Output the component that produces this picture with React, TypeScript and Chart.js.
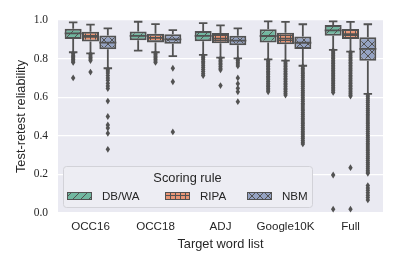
import React, { useEffect, useRef } from 'react';
import { Chart, registerables } from 'chart.js';

Chart.register(...registerables);

const categories = ['OCC16', 'OCC18', 'ADJ', 'Google10K', 'Full'];
const rules = ['DB/WA', 'RIPA', 'NBM'];
const yTickValues = [0, 0.2, 0.4, 0.6, 0.8, 1.0];

// DB/WA
const dbwaLow = [0.833, 0.841, 0.819, 0.796, 0.845];
const dbwaQ1 = [0.902, 0.895, 0.89, 0.884, 0.919];
const dbwaMed = [0.931, 0.918, 0.918, 0.917, 0.946];
const dbwaQ3 = [0.955, 0.94, 0.943, 0.952, 0.974];
const dbwaHigh = [0.988, 0.991, 0.984, 0.993, 0.993];
const dbwaOut = [
  [0.826, 0.818, 0.81, 0.803, 0.795, 0.787, 0.78, 0.7],
  [],
  [0.814, 0.805, 0.796, 0.786, 0.777, 0.766, 0.755, 0.744, 0.733, 0.722, 0.712],
  [0.792, 0.784, 0.776, 0.767, 0.759, 0.75, 0.742, 0.733, 0.725, 0.716, 0.707, 0.699, 0.69, 0.681, 0.672, 0.663, 0.655, 0.646, 0.637, 0.628],
  [0.842, 0.834, 0.825, 0.817, 0.808, 0.8, 0.791, 0.783, 0.774, 0.765, 0.757, 0.748, 0.739, 0.731, 0.722, 0.714, 0.705, 0.696, 0.688, 0.679, 0.67, 0.661, 0.652, 0.643, 0.634, 0.625, 0.197, 0.02],
];

// RIPA
const ripaLow = [0.827, 0.833, 0.805, 0.789, 0.836];
const ripaQ1 = [0.888, 0.884, 0.879, 0.874, 0.902];
const ripaMed = [0.913, 0.907, 0.903, 0.904, 0.927];
const ripaQ3 = [0.939, 0.929, 0.933, 0.934, 0.953];
const ripaHigh = [0.976, 0.979, 0.972, 0.99, 0.99];
const ripaOut = [
  [0.822, 0.814, 0.806, 0.798, 0.79, 0.73],
  [0.828, 0.82, 0.812, 0.804, 0.796, 0.788, 0.78],
  [0.8, 0.792, 0.784, 0.776, 0.768, 0.759, 0.75, 0.742, 0.66],
  [0.784, 0.776, 0.767, 0.759, 0.75, 0.742, 0.733, 0.724, 0.716, 0.707, 0.698, 0.69, 0.681, 0.672, 0.664, 0.655, 0.646, 0.638, 0.629, 0.62, 0.611],
  [0.832, 0.824, 0.815, 0.807, 0.798, 0.79, 0.781, 0.773, 0.764, 0.756, 0.747, 0.739, 0.73, 0.722, 0.713, 0.705, 0.696, 0.688, 0.679, 0.671, 0.662, 0.654, 0.645, 0.637, 0.628, 0.62, 0.612, 0.606, 0.235, 0.02],
];

// NBM
const nbmLow = [0.75, 0.813, 0.801, 0.763, 0.617];
const nbmQ1 = [0.848, 0.877, 0.869, 0.85, 0.789];
const nbmMed = [0.883, 0.9, 0.893, 0.882, 0.85];
const nbmQ3 = [0.92, 0.926, 0.919, 0.915, 0.91];
const nbmHigh = [0.957, 0.948, 0.957, 0.978, 0.978];
const nbmOut = [
  [0.745, 0.736, 0.725, 0.712, 0.7, 0.688, 0.672, 0.658, 0.645, 0.58, 0.5, 0.456, 0.44, 0.413, 0.33],
  [0.75, 0.68, 0.42],
  [0.798, 0.79, 0.781, 0.772, 0.762, 0.7, 0.67, 0.646, 0.628, 0.577],
  [0.76, 0.75, 0.741, 0.731, 0.722, 0.712, 0.703, 0.693, 0.683, 0.674, 0.664, 0.655, 0.645, 0.635, 0.626, 0.616, 0.607, 0.597, 0.587, 0.578, 0.568, 0.559, 0.549, 0.539, 0.53, 0.52, 0.511, 0.501, 0.491, 0.482, 0.472, 0.463, 0.453, 0.443, 0.434, 0.424, 0.415, 0.405, 0.395, 0.386, 0.376, 0.367, 0.358],
  [0.612, 0.602, 0.592, 0.582, 0.572, 0.562, 0.552, 0.542, 0.532, 0.522, 0.512, 0.502, 0.492, 0.482, 0.472, 0.462, 0.452, 0.442, 0.432, 0.422, 0.412, 0.402, 0.392, 0.382, 0.372, 0.362, 0.352, 0.342, 0.332, 0.322, 0.312, 0.302, 0.292, 0.282, 0.272, 0.262, 0.252, 0.242, 0.232, 0.222, 0.212, 0.206, 0.142, 0.13, 0.118, 0.105, 0.092, 0.08, 0.068],
];

const boxColors = ['#71b7a0', '#e99575', '#95a3c3'];
const hatchKinds = ['diag', 'grid', 'cross'];

const EDGE = '#525252';
const TEXT = '#262626';
const BG = '#eaeaf2';
const SANS = '"Liberation Sans", Arial, sans-serif';
const SERIF = '"Liberation Serif", "Times New Roman", serif';

function makeHatch(ctx: CanvasRenderingContext2D, color: string, kind: string) {
  const s = kind === 'grid' ? 5 : 8;
  const c = document.createElement('canvas');
  c.width = s;
  c.height = s;
  const g = c.getContext('2d') as CanvasRenderingContext2D;
  g.fillStyle = color;
  g.fillRect(0, 0, s, s);
  g.strokeStyle = EDGE;
  g.lineWidth = 1;
  g.beginPath();
  if (kind === 'diag' || kind === 'cross') {
    g.moveTo(-1, s + 1); g.lineTo(s + 1, -1);
    g.moveTo(-1, 1); g.lineTo(1, -1);
    g.moveTo(s - 1, s + 1); g.lineTo(s + 1, s - 1);
  }
  if (kind === 'cross') {
    g.moveTo(-1, -1); g.lineTo(s + 1, s + 1);
    g.moveTo(s - 1, -1); g.lineTo(s + 1, 1);
    g.moveTo(-1, s - 1); g.lineTo(1, s + 1);
  }
  if (kind === 'grid') {
    g.moveTo(0, 0.5); g.lineTo(s, 0.5);
    g.moveTo(0.5, 0); g.lineTo(0.5, s);
  }
  g.stroke();
  return ctx.createPattern(c, 'repeat') as CanvasPattern;
}

const stats = [
  { low: dbwaLow, q1: dbwaQ1, med: dbwaMed, q3: dbwaQ3, high: dbwaHigh, out: dbwaOut },
  { low: ripaLow, q1: ripaQ1, med: ripaMed, q3: ripaQ3, high: ripaHigh, out: ripaOut },
  { low: nbmLow, q1: nbmQ1, med: nbmMed, q3: nbmQ3, high: nbmHigh, out: nbmOut },
];

export default function App() {
  const ref = useRef<HTMLCanvasElement | null>(null);

  useEffect(() => {
    const canvas = ref.current;
    if (!canvas) return;
    const ctx = canvas.getContext('2d') as CanvasRenderingContext2D;
    const patterns = boxColors.map((c, i) => makeHatch(ctx, c, hatchKinds[i]));

    const bgPlugin = {
      id: 'plotBg',
      beforeDraw(chart: any) {
        const { ctx: c, chartArea: a } = chart;
        c.save();
        c.fillStyle = BG;
        c.fillRect(a.left, a.top, a.right - a.left, a.bottom - a.top);
        c.restore();
      },
    };

    const boxPlugin = {
      id: 'boxExtras',
      afterDatasetsDraw(chart: any) {
        const c = chart.ctx as CanvasRenderingContext2D;
        const y = chart.scales.y;
        c.save();
        stats.forEach((st, di) => {
          const meta = chart.getDatasetMeta(di);
          meta.data.forEach((el: any, i: number) => {
            const x = el.x;
            const w = el.width;
            c.strokeStyle = EDGE;
            c.lineWidth = 1.8;
            c.beginPath();
            c.moveTo(x, y.getPixelForValue(st.q3[i]));
            c.lineTo(x, y.getPixelForValue(st.high[i]));
            c.moveTo(x, y.getPixelForValue(st.q1[i]));
            c.lineTo(x, y.getPixelForValue(st.low[i]));
            c.moveTo(x - w / 4, y.getPixelForValue(st.high[i]));
            c.lineTo(x + w / 4, y.getPixelForValue(st.high[i]));
            c.moveTo(x - w / 4, y.getPixelForValue(st.low[i]));
            c.lineTo(x + w / 4, y.getPixelForValue(st.low[i]));
            c.moveTo(x - w / 2, y.getPixelForValue(st.med[i]));
            c.lineTo(x + w / 2, y.getPixelForValue(st.med[i]));
            c.stroke();
            c.fillStyle = EDGE;
            st.out[i].forEach((v: number) => {
              const py = y.getPixelForValue(v);
              c.beginPath();
              c.moveTo(x, py - 3.4);
              c.lineTo(x + 2.2, py);
              c.lineTo(x, py + 3.4);
              c.lineTo(x - 2.2, py);
              c.closePath();
              c.fill();
            });
          });
        });
        c.restore();
      },
    };

    const legendPlugin = {
      id: 'boxLegend',
      afterDraw(chart: any) {
        const c = chart.ctx as CanvasRenderingContext2D;
        const a = chart.chartArea;
        const lx = a.left + 5;
        const ly = a.bottom - 47;
        const lw = 249;
        const lh = 41;
        c.save();
        c.beginPath();
        (c as any).roundRect(lx + 0.5, ly + 0.5, lw, lh, 3);
        c.fillStyle = '#ededf3';
        c.fill();
        c.strokeStyle = '#d2d2d8';
        c.lineWidth = 1;
        c.stroke();
        c.fillStyle = TEXT;
        c.textAlign = 'center';
        c.textBaseline = 'middle';
        c.font = `12.8px ${SANS}`;
        c.fillText('Scoring rule', lx + lw / 2, ly + 12);
        const itemX = [4, 102, 184];
        c.font = `11.6px ${SANS}`;
        c.textAlign = 'left';
        rules.forEach((r, i) => {
          const px = lx + itemX[i];
          const py = ly + 26;
          c.fillStyle = patterns[i];
          c.fillRect(px, py, 25, 8);
          c.strokeStyle = EDGE;
          c.lineWidth = 1;
          c.strokeRect(px + 0.5, py + 0.5, 24, 7);
          c.fillStyle = TEXT;
          c.fillText(r, px + 35, py + 4.5);
        });
        c.restore();
      },
    };

    const chart = new Chart(ctx, {
      type: 'bar',
      data: {
        labels: categories,
        datasets: rules.map((r, i) => ({
          label: r,
          data: categories.map((_, k) => [stats[i].q1[k], stats[i].q3[k]]),
          backgroundColor: patterns[i],
          borderColor: EDGE,
          borderWidth: 2,
          borderSkipped: false,
          categoryPercentage: 0.8,
          barPercentage: 0.98,
        })),
      },
      options: {
        responsive: false,
        animation: false,
        events: [],
        layout: { padding: { left: 0, right: 16, top: 20, bottom: 0 } },
        plugins: {
          legend: { display: false },
          tooltip: { enabled: false },
        },
        scales: {
          x: {
            grid: { display: false, drawTicks: false },
            border: { display: false },
            ticks: { color: TEXT, font: { family: SANS, size: 11.6 }, padding: 7 },
            title: {
              display: true,
              text: 'Target word list',
              color: TEXT,
              font: { family: SANS, size: 12.8 },
              padding: { top: 0, bottom: 14 },
            },
            afterFit: (s: any) => { s.height = 53; },
          },
          y: {
            min: 0,
            max: 1,
            afterBuildTicks: (s: any) => { s.ticks = yTickValues.map((v) => ({ value: v })); },
            grid: { color: '#ffffff', lineWidth: 1.2, drawTicks: false },
            border: { display: false },
            ticks: {
              color: TEXT,
              font: { family: SERIF, size: 11.5 },
              padding: 10,
              callback: (v: any) => Number(v).toFixed(1),
            },
            title: {
              display: true,
              text: 'Test-retest reliability',
              color: TEXT,
              font: { family: SANS, size: 12.8 },
              padding: { top: 14, bottom: 0 },
            },
            afterFit: (s: any) => { s.width = 58; },
          },
        },
      },
      plugins: [bgPlugin, boxPlugin, legendPlugin],
    });

    return () => chart.destroy();
  }, []);

  return (
    <div style={{ position: 'fixed', left: 0, top: 0, width: 399, height: 266 }}>
      <canvas ref={ref} width={399} height={266} style={{ display: 'block' }} />
    </div>
  );
}
